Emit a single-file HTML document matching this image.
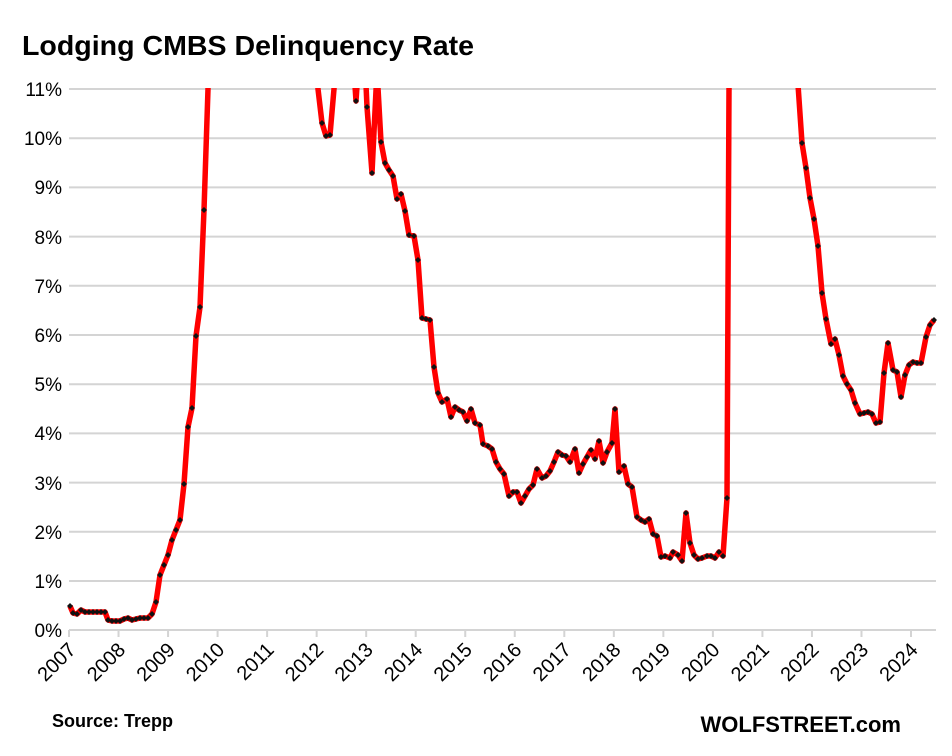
<!DOCTYPE html>
<html><head><style>
html,body{margin:0;padding:0;background:#fff;}
</style></head><body>
<svg width="952" height="751" xmlns="http://www.w3.org/2000/svg" font-family="'Liberation Sans', sans-serif">
<defs><clipPath id="c"><rect x="60" y="88" width="892" height="560"/></clipPath></defs>
<text x="22" y="55" font-size="28" font-weight="bold" fill="#000" textLength="452" lengthAdjust="spacingAndGlyphs">Lodging CMBS Delinquency Rate</text>
<g stroke="#d4d4d4" stroke-width="2">
<line x1="69" y1="89" x2="936" y2="89"/><line x1="69" y1="138.2" x2="936" y2="138.2"/>
<line x1="69" y1="187.4" x2="936" y2="187.4"/><line x1="69" y1="236.6" x2="936" y2="236.6"/>
<line x1="69" y1="285.8" x2="936" y2="285.8"/><line x1="69" y1="335" x2="936" y2="335"/>
<line x1="69" y1="384.2" x2="936" y2="384.2"/><line x1="69" y1="433.4" x2="936" y2="433.4"/>
<line x1="69" y1="482.6" x2="936" y2="482.6"/><line x1="69" y1="531.8" x2="936" y2="531.8"/>
<line x1="69" y1="581" x2="936" y2="581"/><line x1="69" y1="630" x2="936" y2="630"/>
</g>
<g stroke="#d4d4d4" stroke-width="2" id="ticks"></g>
<g font-size="19" fill="#000" text-anchor="end">
<text x="62" y="96">11%</text><text x="62" y="145">10%</text><text x="62" y="194">9%</text>
<text x="62" y="244">8%</text><text x="62" y="293">7%</text><text x="62" y="342">6%</text>
<text x="62" y="391">5%</text><text x="62" y="440">4%</text><text x="62" y="490">3%</text>
<text x="62" y="539">2%</text><text x="62" y="588">1%</text><text x="62" y="637">0%</text>
</g>
<g id="xl" font-size="20" fill="#000" text-anchor="end"></g>
<polyline clip-path="url(#c)" fill="none" stroke="#ff0000" stroke-width="5.5" stroke-linejoin="round" id="ln" points=""/>
<g id="dots" fill="#111" clip-path="url(#c)"></g>
<text x="52" y="727" font-size="18" font-weight="bold">Source: Trepp</text>
<text x="901" y="732" font-size="22" font-weight="bold" text-anchor="end">WOLFSTREET.com</text>
<script>
var ns="http://www.w3.org/2000/svg";
var t=document.getElementById('ticks'),xl=document.getElementById('xl');
for(var i=0;i<18;i++){var x=69+i*49.53;
var l=document.createElementNS(ns,'line');l.setAttribute('x1',x);l.setAttribute('x2',x);l.setAttribute('y1',630);l.setAttribute('y2',637);t.appendChild(l);
var tx=document.createElementNS(ns,'text');tx.setAttribute('transform','translate('+(x+8)+',651) rotate(-45)');tx.textContent=2007+i;xl.appendChild(tx);}
var P=[[70,606],[73,613],[77,614],[81,610],[85,612],[89,612],[93,612],[97,612],[101,612],[105,612],[108,620],[112,621],[116,621],[120,621],[124,619],[128,618],[132,620],[136,619],[140,618],[144,618],[148,618],[152,614],[156,602],[160,575],[164,565],[168,555],[172,540],[176,530],[180,520],[184,484],[188,427],[192,408],[196,336],[200,307],[204,210],[208,89],[210,-100],[314,-100],[316,40],[318,89],[322,123],[326,136],[330,135],[334,89],[336,40],[352,40],[356,101],[360,40],[364,40],[367,107],[372,173],[377,70],[381,142],[385,163],[389,170],[393,176],[397,199],[401,194],[405,211],[409,235],[414,236],[418,260],[422,318],[426,319],[430,320],[434,367],[438,393],[442,402],[447,399],[451,417],[455,407],[459,410],[463,412],[467,421],[471,409],[475,423],[480,425],[483,444],[488,446],[492,449],[496,462],[500,469],[504,474],[509,496],[513,492],[517,492],[521,503],[525,496],[529,489],[533,485],[537,469],[542,478],[546,476],[550,471],[554,462],[558,452],[562,455],[566,456],[570,462],[575,449],[579,473],[583,464],[587,457],[591,450],[595,459],[599,441],[603,463],[607,452],[612,443],[615,409],[619,472],[624,466],[628,484],[632,487],[637,517],[641,520],[645,522],[649,519],[653,534],[657,536],[661,557],[665,556],[670,558],[673,552],[678,555],[682,561],[686,513],[690,543],[694,555],[698,559],[702,558],[707,556],[711,556],[715,558],[719,552],[723,556],[727,498],[729,89],[731,-100],[795,-100],[797,70],[802,143],[806,168],[810,198],[814,219],[818,246],[822,293],[826,319],[831,344],[835,339],[839,355],[843,376],[847,384],[851,390],[855,403],[860,414],[864,413],[868,412],[872,414],[876,423],[880,422],[884,373],[888,343],[893,370],[897,372],[901,397],[905,375],[909,365],[913,362],[917,363],[921,363],[926,337],[930,325],[934,320]];
document.getElementById('ln').setAttribute('points',P.map(function(p){return p.join(',')}).join(' '));
var d=document.getElementById('dots');
P.forEach(function(p){if(p[1]<=89.5)return;var r=document.createElementNS(ns,'polygon');
r.setAttribute('points',(p[0])+','+(p[1]-3)+' '+(p[0]+3)+','+p[1]+' '+p[0]+','+(p[1]+3)+' '+(p[0]-3)+','+p[1]);d.appendChild(r);});
</script>
</svg>
</body></html>
